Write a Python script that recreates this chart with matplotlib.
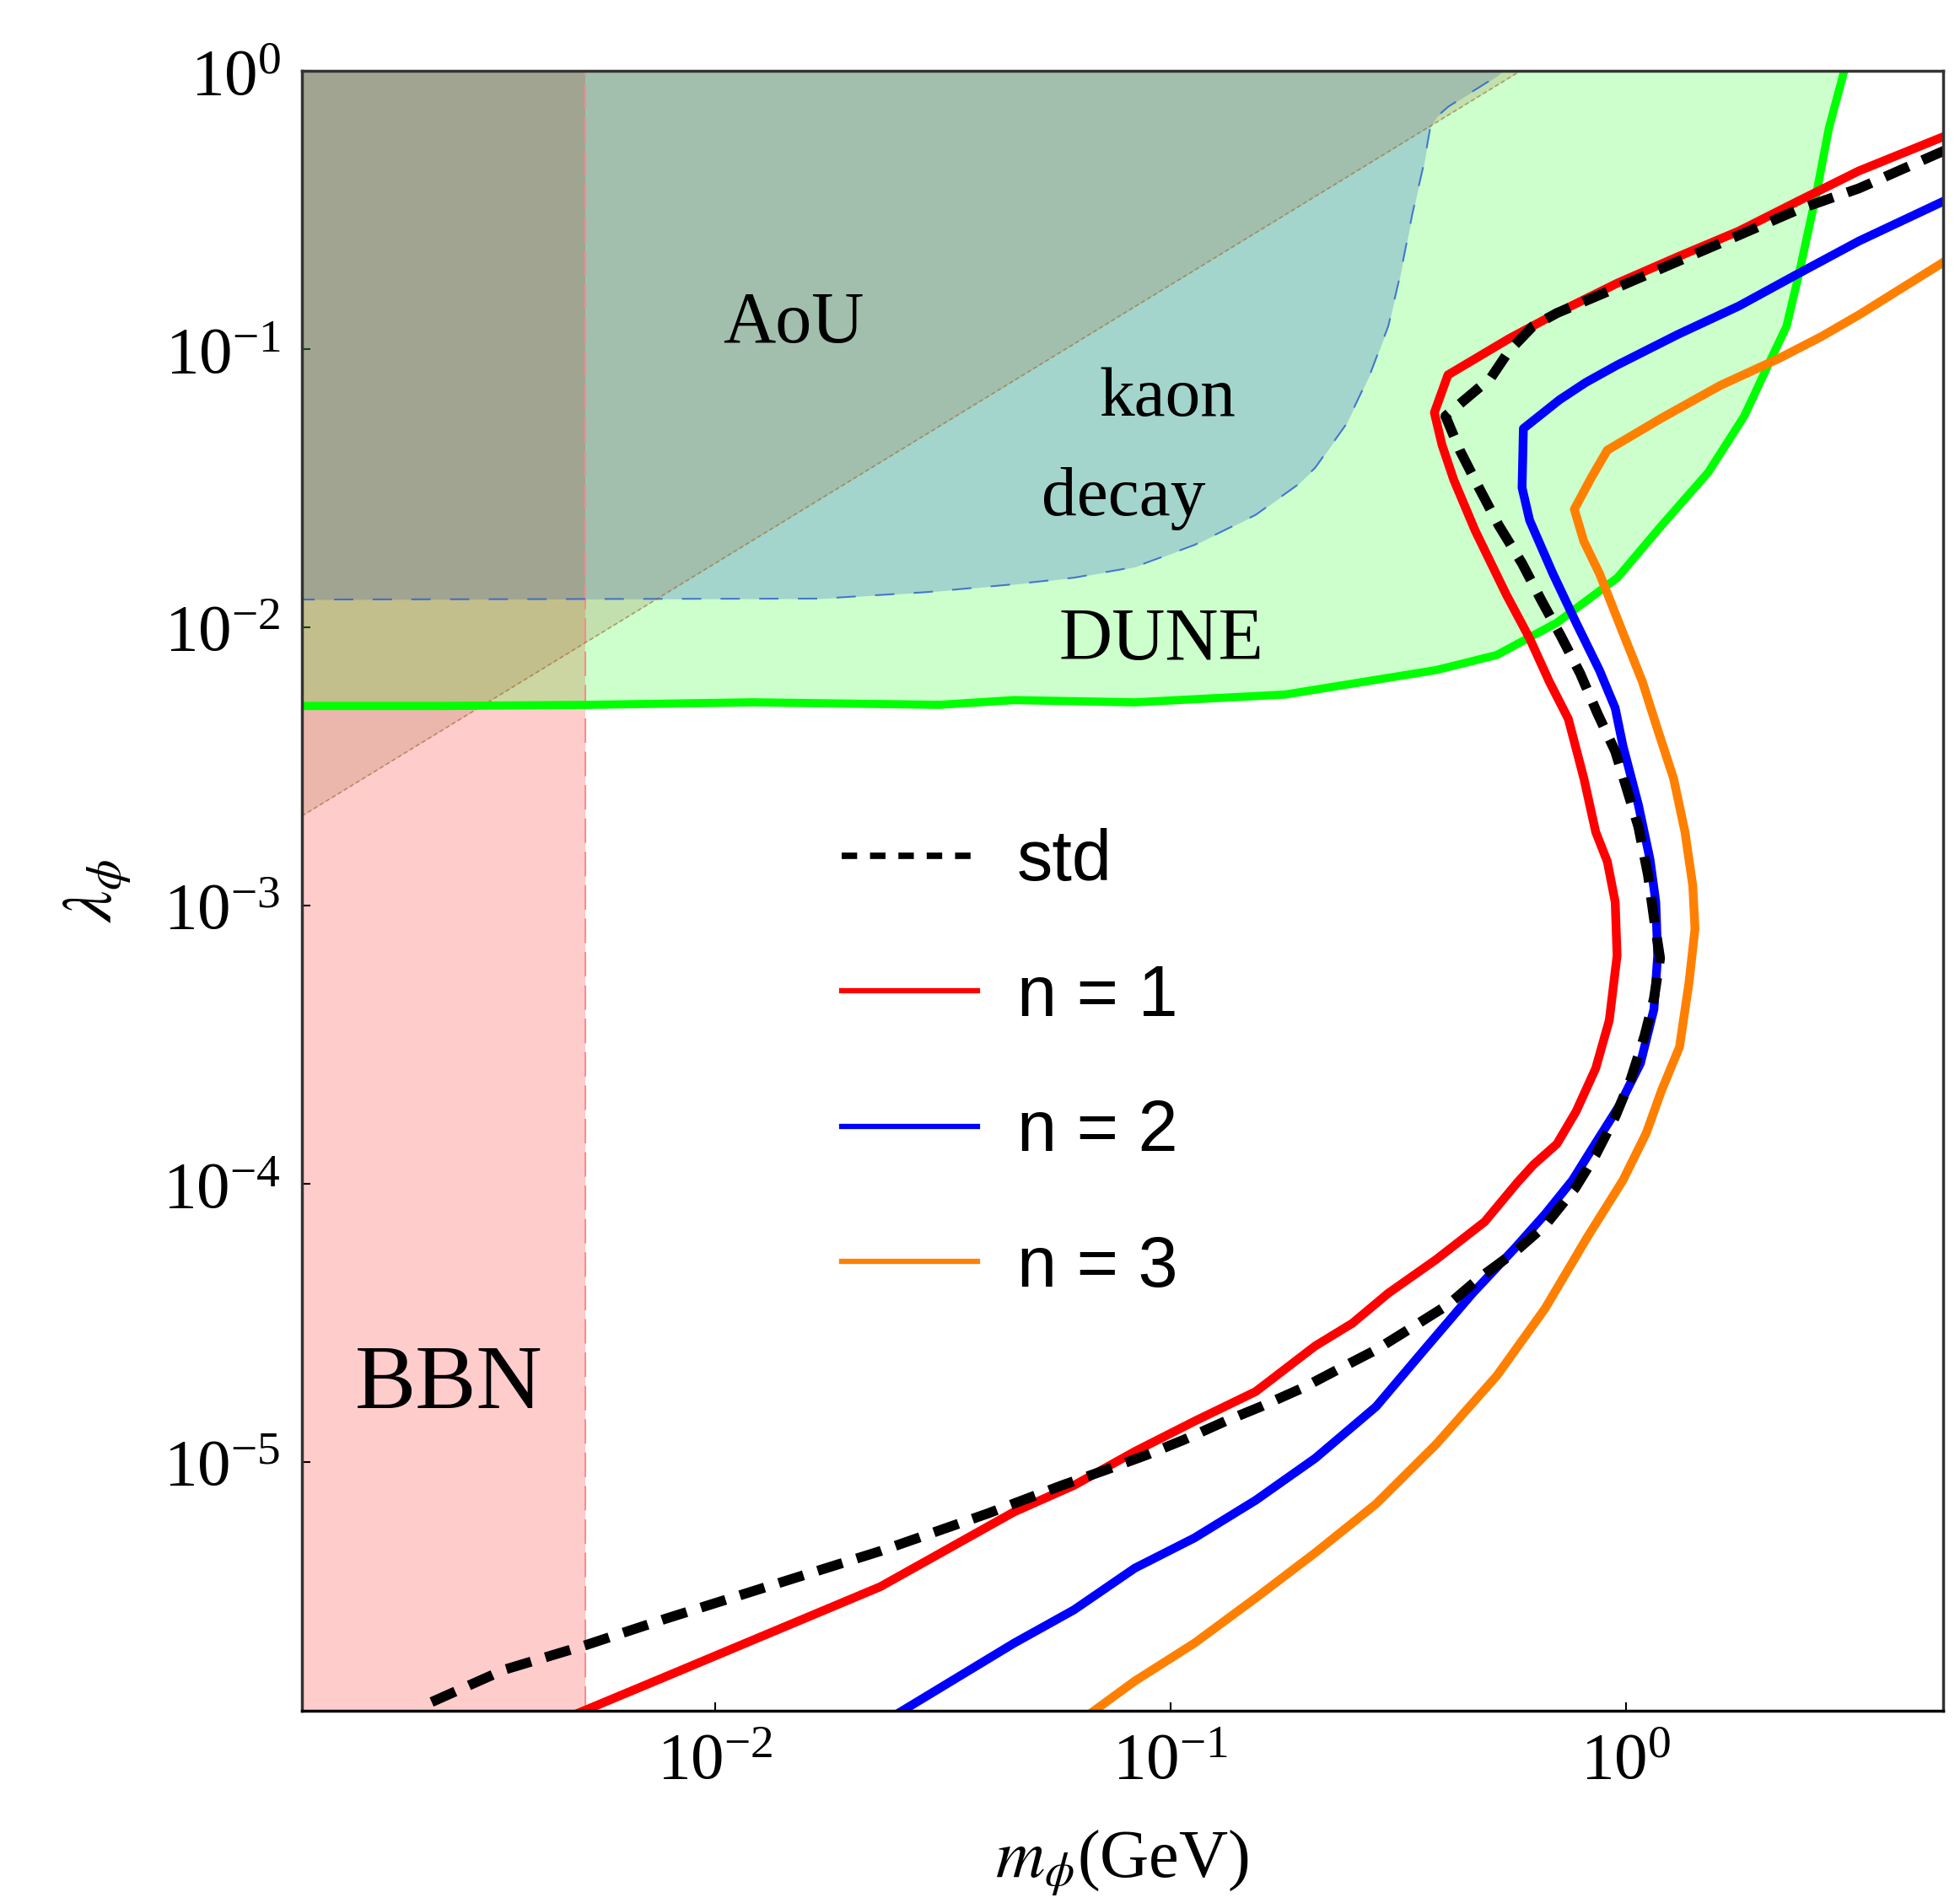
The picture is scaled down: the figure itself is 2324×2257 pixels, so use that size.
import matplotlib
matplotlib.use("Agg")
import matplotlib.pyplot as plt
from matplotlib.lines import Line2D
from matplotlib.ticker import NullLocator

plt.rcParams['font.family'] = 'serif'
plt.rcParams['font.serif'] = ['Liberation Serif', 'DejaVu Serif']
plt.rcParams['mathtext.fontset'] = 'stix'

# ---------------- data ----------------
x_range = [1.24e-3, 4.97]
y_range = [1.27e-6, 1.0]

bbn_edge = 5.2e-3

aou_m = [1.24e-3, 0.586]
aou_lam = [2.1e-3, 1.0]

dune_m = [1.2e-3, 2.49e-3, 5.32e-3, 1.21e-2, 3.11e-2, 4.54e-2, 8.36e-2, 0.179, 0.384, 0.521,
          0.706, 0.959, 1.186, 1.517, 1.820, 2.056, 2.254, 2.399, 2.624, 2.793, 3.013, 3.05]
dune_lam = [5.22e-3, 5.22e-3, 5.27e-3, 5.38e-3, 5.27e-3, 5.48e-3, 5.38e-3, 5.74e-3, 7.03e-3, 7.96e-3,
            1.04e-2, 1.51e-2, 2.28e-2, 3.61e-2, 5.75e-2, 8.81e-2, 0.121, 0.186, 0.366, 0.625, 0.993, 1.05]

kaon_m = [1.2e-3, 1.71e-2, 2.92e-2, 4.54e-2, 6.15e-2, 8.36e-2, 0.113, 0.154, 0.190, 0.208, 0.243,
          0.275, 0.301, 0.320, 0.340, 0.361, 0.372, 0.384, 0.408, 0.521, 0.537]
kaon_lam = [1.26e-2, 1.27e-2, 1.34e-2, 1.43e-2, 1.51e-2, 1.65e-2, 1.98e-2, 2.54e-2, 3.25e-2, 3.75e-2,
            5.36e-2, 8.20e-2, 0.121, 0.186, 0.307, 0.470, 0.625, 0.684, 0.746, 0.959, 1.0]

std_m = [2.39e-3, 3.45e-3, 5.19e-3, 7.80e-3, 1.34e-2, 2.31e-2, 3.97e-2, 5.79e-2, 7.18e-2, 8.88e-2,
         0.107, 0.132, 0.158, 0.196, 0.236, 0.283, 0.340, 0.408, 0.476, 0.571, 0.665, 0.775, 0.859,
         0.948, 1.026, 1.099, 1.153, 1.189, 1.153, 1.119, 1.066, 1.005, 0.948, 0.867, 0.794, 0.720,
         0.653, 0.592, 0.526, 0.476, 0.432, 0.402, 0.434, 0.506, 0.553, 0.625, 0.706, 0.959, 1.30,
         1.77, 2.39, 3.25, 4.83, 5.32]
std_lam = [1.37e-6, 1.79e-6, 2.19e-6, 2.73e-6, 3.61e-6, 4.78e-6, 6.52e-6, 8.24e-6, 9.33e-6, 1.06e-5,
           1.20e-5, 1.40e-5, 1.58e-5, 1.85e-5, 2.17e-5, 2.53e-5, 3.05e-5, 3.68e-5, 4.57e-5, 5.69e-5,
           7.08e-5, 9.66e-5, 1.27e-4, 1.74e-4, 2.38e-4, 3.39e-4, 4.62e-4, 6.47e-4, 9.03e-4, 1.29e-3,
           1.92e-3, 2.63e-3, 3.59e-3, 4.90e-3, 6.84e-3, 9.33e-3, 1.25e-2, 1.70e-2, 2.33e-2, 3.18e-2,
           4.34e-2, 5.75e-2, 6.40e-2, 7.91e-2, 9.82e-2, 0.121, 0.135, 0.167, 0.207, 0.257, 0.318,
           0.379, 0.505, 0.541]

n1_m = [4.84e-3, 7.80e-3, 1.34e-2, 2.31e-2, 4.54e-2, 6.15e-2, 8.36e-2, 0.113, 0.154, 0.208, 0.251,
        0.301, 0.384, 0.490, 0.578, 0.627, 0.706, 0.778, 0.859, 0.920, 0.957, 0.948, 0.911, 0.859,
        0.809, 0.748, 0.679, 0.615, 0.547, 0.467, 0.419, 0.395, 0.380, 0.407, 0.553, 0.706, 0.959,
        1.30, 1.77, 2.39, 3.25, 4.99, 5.32]
n1_lam = [1.22e-6, 1.69e-6, 2.45e-6, 3.56e-6, 6.61e-6, 8.24e-6, 1.09e-5, 1.40e-5, 1.79e-5, 2.61e-5,
          3.15e-5, 4.04e-5, 5.35e-5, 7.30e-5, 1.01e-4, 1.17e-4, 1.39e-4, 1.82e-4, 2.60e-4, 3.87e-4,
          6.61e-4, 1.03e-3, 1.44e-3, 1.84e-3, 2.87e-3, 4.69e-3, 6.40e-3, 9.14e-3, 1.31e-2, 2.23e-2,
          3.40e-2, 4.53e-2, 5.92e-2, 8.09e-2, 0.109, 0.135, 0.173, 0.215, 0.266, 0.341, 0.438,
          0.582, 0.608]

n2_m = [2.45e-2, 4.54e-2, 6.15e-2, 8.36e-2, 0.113, 0.154, 0.208, 0.283, 0.361, 0.461, 0.571, 0.665,
        0.764, 0.842, 0.966, 1.077, 1.153, 1.175, 1.164, 1.130, 1.066, 0.986, 0.948, 0.876, 0.778,
        0.692, 0.615, 0.592, 0.596, 0.716, 0.817, 0.959, 1.30, 1.77, 2.39, 3.25, 4.99, 5.32]
n2_lam = [1.21e-6, 2.23e-6, 2.94e-6, 4.15e-6, 5.33e-6, 7.28e-6, 1.03e-5, 1.58e-5, 2.53e-5, 4.04e-5,
          5.87e-5, 7.77e-5, 1.03e-4, 1.33e-4, 1.90e-4, 2.71e-4, 4.24e-4, 6.61e-4, 1.03e-3, 1.47e-3,
          2.30e-3, 3.75e-3, 5.13e-3, 7.00e-3, 1.04e-2, 1.56e-2, 2.43e-2, 3.18e-2, 5.19e-2, 6.59e-2,
          7.60e-2, 8.79e-2, 0.113, 0.143, 0.187, 0.245, 0.341, 0.359]

n3_m = [6.47e-2, 8.36e-2, 0.113, 0.154, 0.208, 0.283, 0.384, 0.521, 0.665, 0.824, 0.986, 1.109,
        1.199, 1.312, 1.377, 1.419, 1.403, 1.349, 1.273, 1.175, 1.087, 0.986, 0.876, 0.809, 0.771,
        0.842, 0.911, 1.199, 1.611, 2.163, 2.685, 3.25, 4.99, 5.32]
n3_lam = [1.20e-6, 1.63e-6, 2.23e-6, 3.24e-6, 4.71e-6, 7.06e-6, 1.16e-5, 2.04e-5, 3.56e-5, 6.44e-5,
          1.03e-4, 1.52e-4, 2.17e-4, 3.10e-4, 5.30e-4, 8.26e-4, 1.18e-3, 1.84e-3, 2.87e-3, 4.29e-3,
          6.40e-3, 9.55e-3, 1.56e-2, 2.04e-2, 2.66e-2, 3.48e-2, 4.34e-2, 5.66e-2, 7.41e-2, 9.25e-2,
          0.111, 0.133, 0.206, 0.219]

legend_labels = ['std', 'n = 1', 'n = 2', 'n = 3']

# ---------------- figure ----------------
fig = plt.figure(figsize=(23.24, 22.57), dpi=100)
ax = fig.add_axes([0.1540, 0.1008, 0.8373, 0.8618])
ax.set_xscale('log')
ax.set_yscale('log')

# shaded regions
ax.axvspan(x_range[0], bbn_edge, color=(1.0, 0.0, 0.0), alpha=0.2, lw=0, zorder=1)
ax.fill_between(dune_m, dune_lam, y_range[1], color=(0.0, 1.0, 0.0), alpha=0.2, lw=0, zorder=2)
ax.fill_between(kaon_m, kaon_lam, y_range[1], color=(0.0, 45/255, 204/255), alpha=0.2, lw=0, zorder=3)
ax.fill_between(aou_m, aou_lam, y_range[1], color=(158/255, 103/255, 49/255), alpha=0.2, lw=0, zorder=3.5)

# region boundaries
ax.axvline(bbn_edge, color='#FF8A8A', lw=1.5, ls=(0, (14, 5)), zorder=4)
ax.plot(kaon_m, kaon_lam, color='#3366CC', alpha=0.85, lw=1.5, ls=(0, (11, 11)), zorder=4)
ax.plot(aou_m, aou_lam, color='#9E6731', alpha=0.6, lw=1.2, ls=(0, (3, 2)), zorder=4)
ax.plot(dune_m, dune_lam, color='#00FF00', lw=7, zorder=5)

# curves
ax.plot(n1_m, n1_lam, color='#FF0000', lw=7.5, zorder=6)
ax.plot(n2_m, n2_lam, color='#0000FF', lw=7.5, zorder=6)
ax.plot(n3_m, n3_lam, color='#FF8000', lw=7.5, zorder=6)
ax.plot(std_m, std_lam, color='black', lw=8.5, ls=(0, (2.6, 1.5)), zorder=7)

ax.set_xlim(*x_range)
ax.set_ylim(*y_range)

# region labels
ax.text(0.0149, 0.106, 'AoU', fontsize=62, ha='center', va='baseline', zorder=8)
ax.text(0.0985, 0.0576, 'kaon', fontsize=60, ha='center', va='baseline', zorder=8)
ax.text(0.0789, 0.0254, 'decay', fontsize=60, ha='center', va='baseline', zorder=8)
ax.text(0.0956, 7.66e-3, 'DUNE', fontsize=63, ha='center', va='baseline', zorder=8)
ax.text(2.61e-3, 1.56e-5, 'BBN', fontsize=78, ha='center', va='baseline', zorder=8)

# legend
handles = [
    Line2D([], [], color='black', lw=5.5, ls=(0, (2.4, 2.0))),
    Line2D([], [], color='#FF0000', lw=4.5),
    Line2D([], [], color='#0000FF', lw=4.5),
    Line2D([], [], color='#FF8000', lw=4.5),
]
ax.legend(handles, legend_labels, loc='center left', bbox_to_anchor=(0.329, 0.394),
          frameon=False, prop={'family': 'Liberation Sans', 'size': 61},
          handlelength=1.9, handletextpad=0.55, labelspacing=0.95,
          borderpad=0, borderaxespad=0)

# axes styling
ax.xaxis.set_minor_locator(NullLocator())
ax.yaxis.set_minor_locator(NullLocator())
ax.tick_params(which='major', direction='in', length=7, width=1.5, labelsize=57, pad=18,
               top=False, right=False)
for name, sp in ax.spines.items():
    sp.set_linewidth(2.5)
    sp.set_color('#333333')
    sp.set_zorder(10)
ax.spines['bottom'].set_color('black')

ax.set_xlabel(r'$m_\phi$(GeV)', fontsize=58, labelpad=30)
ax.set_ylabel(r'$\lambda_\phi$', fontsize=60, labelpad=25)

fig.savefig('out.png', dpi=100)
